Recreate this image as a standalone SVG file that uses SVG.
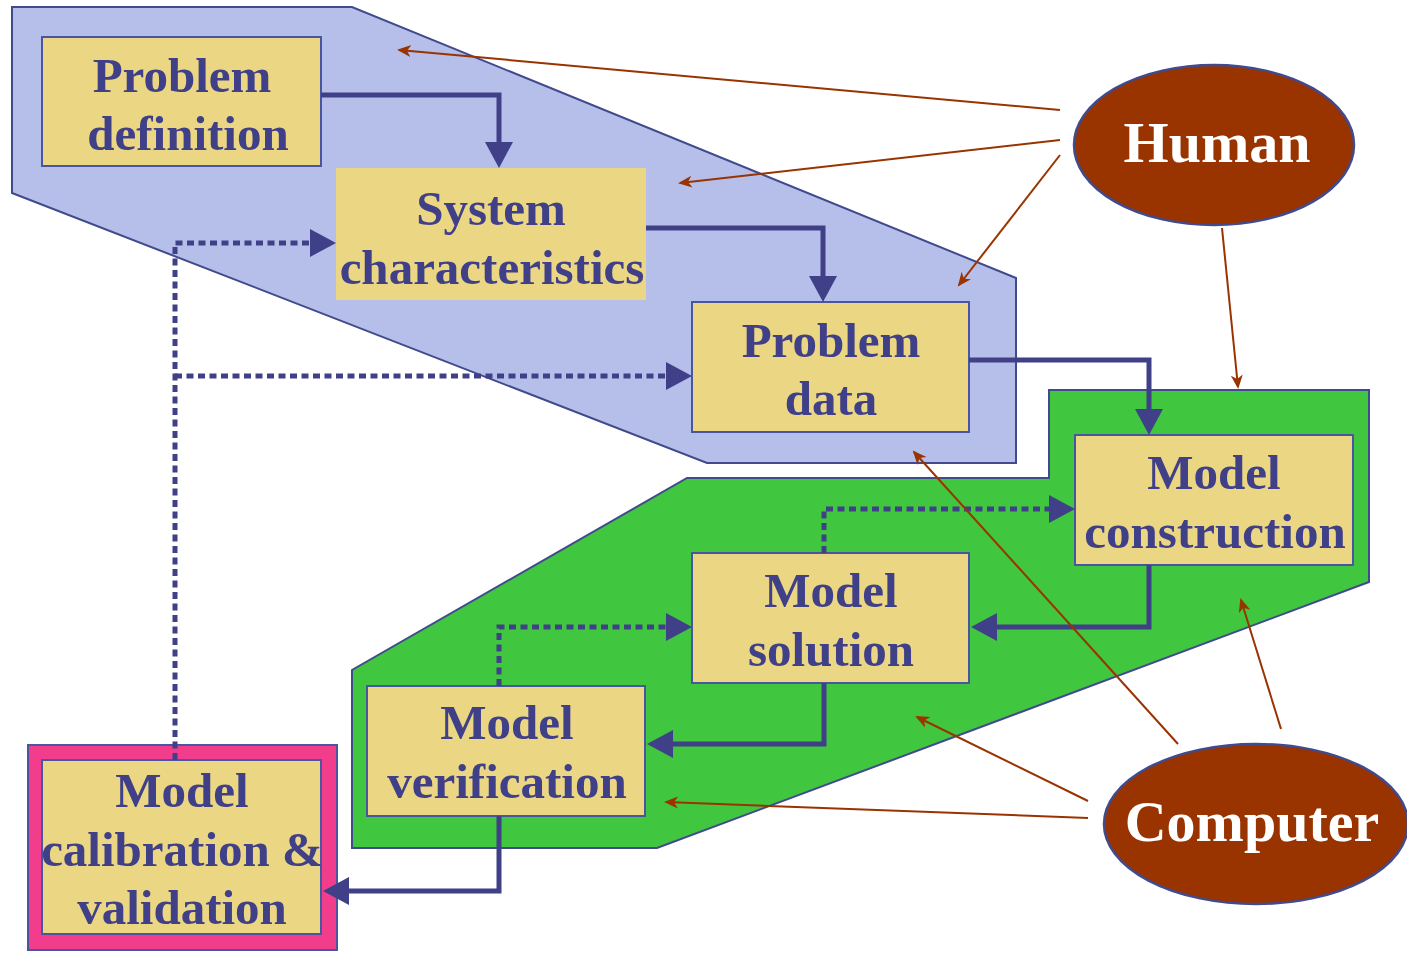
<svg xmlns="http://www.w3.org/2000/svg" width="1407" height="954" viewBox="0 0 1407 954">
  <style>
    .zone { stroke: #404A8C; stroke-width: 2; }
    .box { fill: #EBD683; stroke: #4A55A0; stroke-width: 2; }
    .label { font-family: "Liberation Serif", "Times New Roman", serif; font-weight: bold; font-size: 49px; fill: #404088; text-anchor: middle; }
    .actor { fill: #993300; stroke: #404A8C; stroke-width: 2.5; }
    .actor-label { font-family: "Liberation Serif", "Times New Roman", serif; font-weight: bold; font-size: 58px; fill: #FFFFFF; text-anchor: middle; }
    .flow { fill: none; stroke: #404088; stroke-width: 5; marker-end: url(#flowHead); }
    .feedback { fill: none; stroke: #404088; stroke-width: 5; stroke-dasharray: 7 4.5; marker-end: url(#flowHead); }
    .role { fill: none; stroke: #993300; stroke-width: 2; marker-end: url(#roleHead); }
  </style>
  <defs>
    <!-- tip sits 12px past the path end so the thick stroke stays inside the head -->
    <marker id="flowHead" markerUnits="userSpaceOnUse" markerWidth="28" markerHeight="30" refX="14" refY="14" orient="auto">
      <path d="M0,0 L26,14 L0,28 z" fill="#404088"/>
    </marker>
    <marker id="roleHead" markerUnits="userSpaceOnUse" markerWidth="16" markerHeight="14" refX="12" refY="6" orient="auto">
      <path d="M0,0 L14,6 L0,12 L4,6 z" fill="#993300"/>
    </marker>
  </defs>

  <rect width="1407" height="954" fill="#FFFFFF"/>

  <!-- zones -->
  <g id="zone-problem">
    <polygon class="zone" fill="#B5BFEA" points="12,7 352,7 1016,278 1016,463 707,463 12,193"/>
  </g>
  <g id="zone-model">
    <polygon class="zone" fill="#41C63F" points="1049,390 1369,390 1369,582 657,848 352,848 352,670 687,478 1049,478"/>
  </g>

  <!-- steps -->
  <g id="problem-definition">
    <rect class="box" x="42" y="37" width="279" height="129"/>
    <text class="label" x="182" y="92">Problem</text>
    <text class="label" x="188" y="150">definition</text>
  </g>
  <g id="system-characteristics">
    <rect x="336" y="168" width="310" height="132" fill="#EBD683"/>
    <text class="label" x="491" y="225">System</text>
    <text class="label" x="492" y="284">characteristics</text>
  </g>
  <g id="problem-data">
    <rect class="box" x="692" y="302" width="277" height="130"/>
    <text class="label" x="831" y="357">Problem</text>
    <text class="label" x="831" y="415">data</text>
  </g>
  <g id="model-construction">
    <rect class="box" x="1075" y="435" width="278" height="130"/>
    <text class="label" x="1214" y="489">Model</text>
    <text class="label" x="1215" y="548">construction</text>
  </g>
  <g id="model-solution">
    <rect class="box" x="692" y="553" width="277" height="130"/>
    <text class="label" x="831" y="607">Model</text>
    <text class="label" x="831" y="666">solution</text>
  </g>
  <g id="model-verification">
    <rect class="box" x="367" y="686" width="278" height="130"/>
    <text class="label" x="507" y="739">Model</text>
    <text class="label" x="507" y="798">verification</text>
  </g>
  <g id="model-calibration">
    <rect x="28" y="745" width="309" height="205" fill="#F23C8C" stroke="#4A55A0" stroke-width="2"/>
    <rect class="box" x="42" y="760" width="279" height="174"/>
    <text class="label" x="182" y="807">Model</text>
    <text class="label" x="182" y="866">calibration &amp;</text>
    <text class="label" x="182" y="924">validation</text>
  </g>

  <!-- actors -->
  <g id="human">
    <ellipse class="actor" cx="1214" cy="145" rx="140" ry="80"/>
    <text class="actor-label" x="1217" y="162">Human</text>
  </g>
  <g id="computer">
    <ellipse class="actor" cx="1256" cy="824" rx="152" ry="80"/>
    <text class="actor-label" x="1252" y="841">Computer</text>
  </g>

  <!-- connectors -->
  <g id="connectors">
    <path class="flow" d="M321,95 H499 V156"/>
    <path class="flow" d="M646,228 H823 V290"/>
    <path class="flow" d="M969,360 H1149 V423"/>
    <path class="flow" d="M1149,565 V627 H983"/>
    <path class="flow" d="M824,683 V744 H659"/>
    <path class="flow" d="M499,816 V891 H335"/>

    <path class="feedback" d="M175,760 V243 H324"/>
    <path class="feedback" d="M175,376 H680"/>
    <path class="feedback" d="M499,686 V627 H680"/>
    <path class="feedback" d="M824,553 V509 H1063"/>

    <line class="role" x1="1060" y1="110" x2="399" y2="50"/>
    <line class="role" x1="1060" y1="140" x2="680" y2="183"/>
    <line class="role" x1="1060" y1="155" x2="959" y2="285"/>
    <line class="role" x1="1222" y1="228" x2="1238" y2="387"/>
    <line class="role" x1="1178" y1="744" x2="914" y2="452"/>
    <line class="role" x1="1281" y1="729" x2="1241" y2="600"/>
    <line class="role" x1="1088" y1="801" x2="917" y2="717"/>
    <line class="role" x1="1088" y1="818" x2="666" y2="802"/>
  </g>
</svg>
